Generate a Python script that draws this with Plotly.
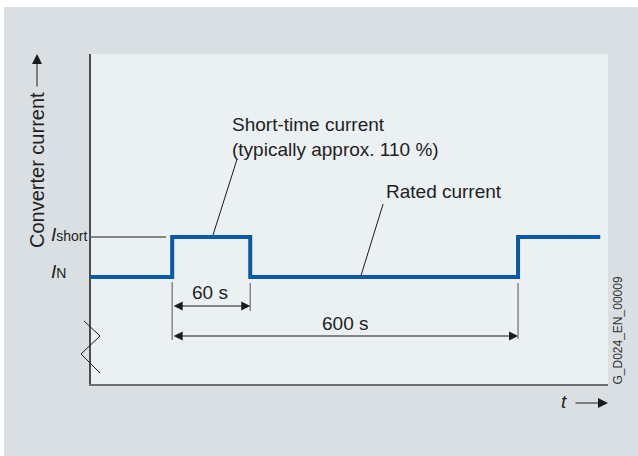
import plotly.graph_objects as go

# schematic time axis (arbitrary units) and current in % of rated current
t = [0, 15.7, 15.7, 30.8, 30.8, 82.6, 82.6, 98.5]
current = [100, 100, 110, 110, 100, 100, 110, 110]
i_rated = 100
i_short = 110

# dimension lines: start, end of the 60 s and 600 s spans
dim_60 = [15.7, 30.8]
dim_600 = [15.7, 82.6]
dim_y = [92.75, 85.25]

FONT = "Liberation Sans, Arial, sans-serif"
TXT = "#222222"

fig = go.Figure()

fig.add_trace(go.Scatter(x=t, y=current, mode="lines",
                         line=dict(color="#0a58a6", width=4), hoverinfo="skip"))

# reference line for I_short
fig.add_trace(go.Scatter(x=[0, 14.5], y=[i_short, i_short], mode="lines",
                         line=dict(color="#1a1a1a", width=1), hoverinfo="skip"))

# extension lines for dimensions
ext = dict(mode="lines", line=dict(color="#777777", width=1.3), hoverinfo="skip")
fig.add_trace(go.Scatter(x=[dim_60[0], dim_60[0]], y=[98.75, 84.25], **ext))
fig.add_trace(go.Scatter(x=[dim_60[1], dim_60[1]], y=[98.5, 91.5], **ext))
fig.add_trace(go.Scatter(x=[dim_600[1], dim_600[1]], y=[98.5, 84.5], **ext))

# leader lines
lead = dict(mode="lines", line=dict(color="#1a1a1a", width=1), hoverinfo="skip")
fig.add_trace(go.Scatter(x=[28.2, 23.6], y=[129.25, 110.5], **lead))
fig.add_trace(go.Scatter(x=[56.5, 52.2], y=[118.25, 100.25], **lead))

ann = []
# dimension arrows (double headed)
for (a, b), yv in zip([dim_60, dim_600], dim_y):
    ann.append(dict(x=b, y=yv, ax=a, ay=yv, xref="x", yref="y", axref="x", ayref="y",
                    text="", showarrow=True, arrowhead=2, startarrowhead=2,
                    arrowside="end+start", arrowsize=1.8, startarrowsize=1.8,
                    arrowwidth=1, arrowcolor="#1a1a1a"))

ann += [
    dict(x=23.0, y=96.1, text="60 s", xref="x", yref="y", showarrow=False),
    dict(x=49.1, y=88.5, text="600 s", xref="x", yref="y", showarrow=False),
    dict(x=26.9, y=135.1, text="Short-time current<br>(typically approx. 110 %)",
         xref="x", yref="y", showarrow=False, xanchor="left", align="left"),
    dict(x=56.7, y=121.5, text="Rated current", xref="x", yref="y",
         showarrow=False, xanchor="left"),
    dict(x=49 / 638, y=i_short + 0.75, text="<i>I</i><span style='font-size:14px'>short</span>",
         xref="paper", yref="y", showarrow=False, xanchor="left", yanchor="middle"),
    dict(x=49 / 638, y=i_rated + 1.5, text="<i>I</i><span style='font-size:14px'>N</span>",
         xref="paper", yref="y", showarrow=False, xanchor="left", yanchor="middle"),
    # axis titles with arrows
    dict(x=37 / 638, y=1 - 170 / 456, text="Converter current", textangle=-90,
         xref="paper", yref="paper", xanchor="center", yanchor="middle", showarrow=False,
         font=dict(size=20)),
    dict(x=37 / 638, y=1 - 54 / 456, ax=0, ay=34, text="", xref="paper", yref="paper",
         showarrow=True, arrowhead=2, arrowsize=2, arrowwidth=1, arrowcolor="#1a1a1a"),
    dict(x=564 / 638, y=1 - 401 / 456, text="<i>t</i>", xref="paper", yref="paper",
         xanchor="center", yanchor="middle", showarrow=False),
    dict(x=608 / 638, y=1 - 403 / 456, ax=-34, ay=0, text="", xref="paper", yref="paper",
         showarrow=True, arrowhead=2, arrowsize=2, arrowwidth=1, arrowcolor="#1a1a1a"),
    dict(x=617 / 638, y=1 - 330.5 / 456, text="G_D024_EN_00009", textangle=-90,
         xref="paper", yref="paper", xanchor="center", yanchor="middle", showarrow=False,
         font=dict(size=12, color="#333333")),
]

shapes = [
    dict(type="rect", xref="paper", yref="paper", x0=0, x1=1, y0=1 - 7 / 456, y1=1,
         fillcolor="white", line=dict(width=0)),
    dict(type="rect", xref="paper", yref="paper", x0=0, x1=4 / 638, y0=0, y1=1,
         fillcolor="white", line=dict(width=0)),
    # axis break zigzag
    dict(type="path", xref="paper", yref="paper",
         path="M {:.4f},{:.4f} L {:.4f},{:.4f} L {:.4f},{:.4f} L {:.4f},{:.4f}".format(
             84 / 638, 1 - 321 / 456, 100 / 638, 1 - 336 / 456,
             81 / 638, 1 - 354 / 456, 100 / 638, 1 - 373 / 456),
         line=dict(color="#1a1a1a", width=1)),
]

fig.update_layout(
    width=638, height=456,
    margin=dict(l=0, r=0, t=0, b=0),
    paper_bgcolor="#dadfe3",
    plot_bgcolor="#ebf0f3",
    showlegend=False,
    font=dict(family=FONT, size=19, color=TXT),
    annotations=ann,
    shapes=shapes,
    xaxis=dict(domain=[91 / 638, 608 / 638], range=[0, 100], showgrid=False,
               zeroline=False, showticklabels=False, ticks="",
               showline=True, linecolor="#707070", linewidth=2, fixedrange=True),
    yaxis=dict(domain=[1 - 384 / 456, 1 - 54 / 456], range=[73.25, 155.75], showgrid=False,
               zeroline=False, showticklabels=False, ticks="",
               showline=True, linecolor="#4d4d4d", linewidth=1.5, fixedrange=True),
)

fig.write_html("out.html", config={"displayModeBar": False},
               post_script="document.body.style.margin='0';")
